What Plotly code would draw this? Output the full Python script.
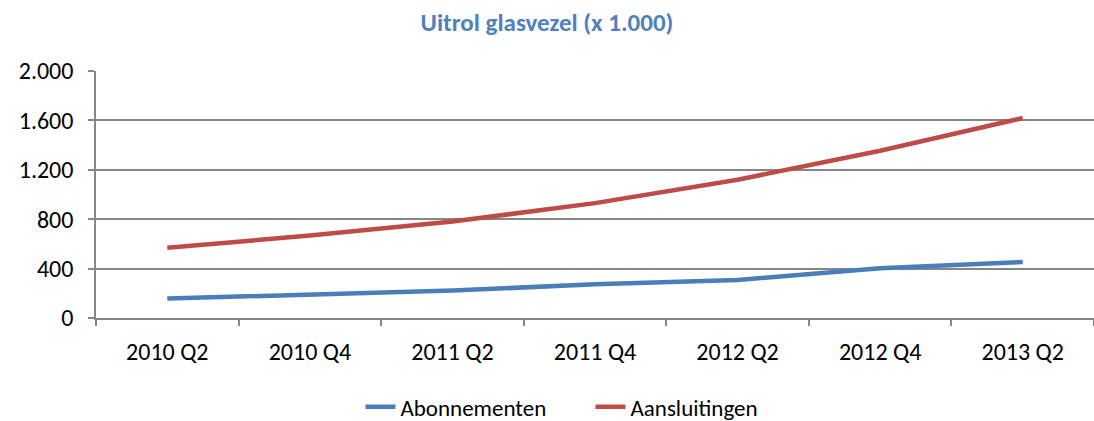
import plotly.graph_objects as go

categories = ["2010 Q2", "2010 Q4", "2011 Q2", "2011 Q4", "2012 Q2", "2012 Q4", "2013 Q2"]
abonnementen = [157, 186, 222, 273, 308, 403, 454]
aansluitingen = [568, 668, 781, 930, 1119, 1354, 1619]
y_ticks = [0, 400, 800, 1200, 1600, 2000]

font_family = "Carlito, Calibri, Lato, sans-serif"

fig = go.Figure()
fig.add_trace(go.Scatter(x=categories, y=abonnementen, name="Abonnementen", mode="lines",
                         line=dict(color="#4A7EBB", width=4.5)))
fig.add_trace(go.Scatter(x=categories, y=aansluitingen, name="Aansluitingen", mode="lines",
                         line=dict(color="#BE4B48", width=4.5)))

fig.update_layout(
    width=1094, height=421,
    margin=dict(l=96, r=0, t=71, b=103, autoexpand=False),
    paper_bgcolor="white", plot_bgcolor="white",
    separators=",.",
    font=dict(family=font_family, size=24, color="black"),
    title=dict(text="<b>Uitrol glasvezel (x 1.000)</b>", x=0.5, xanchor="center",
               y=1 - 22 / 421, yanchor="middle",
               font=dict(family=font_family, size=25, color="#4F81BD")),
    showlegend=True,
    legend=dict(orientation="h", x=0.265, xanchor="left", y=-0.36, yanchor="middle",
                font=dict(size=23), tracegroupgap=0, entrywidth=185, entrywidthmode="pixels"),
)
fig.update_xaxes(
    type="category", range=[-0.5, 6.5], showgrid=False, showline=True,
    linecolor="#868686", linewidth=1.5, automargin=False,
    ticks="outside", tickson="boundaries", ticklen=6, tickcolor="#868686", tickwidth=1.5,
    ticklabelstandoff=11, tickfont=dict(size=24),
)
fig.update_yaxes(
    range=[0, 2000], tickvals=y_ticks, tickformat=",d", automargin=False,
    showgrid=True, gridcolor="#868686", gridwidth=1.5,
    showline=True, linecolor="#868686", linewidth=1.5,
    ticks="outside", ticklen=6, tickcolor="#868686", tickwidth=1.5,
    zeroline=False, ticklabelstandoff=10, tickfont=dict(size=24),
)

fig.write_html(
    "out.html",
    config={"displayModeBar": False},
    post_script="document.body.style.margin='0';document.body.style.overflow='hidden';",
)
